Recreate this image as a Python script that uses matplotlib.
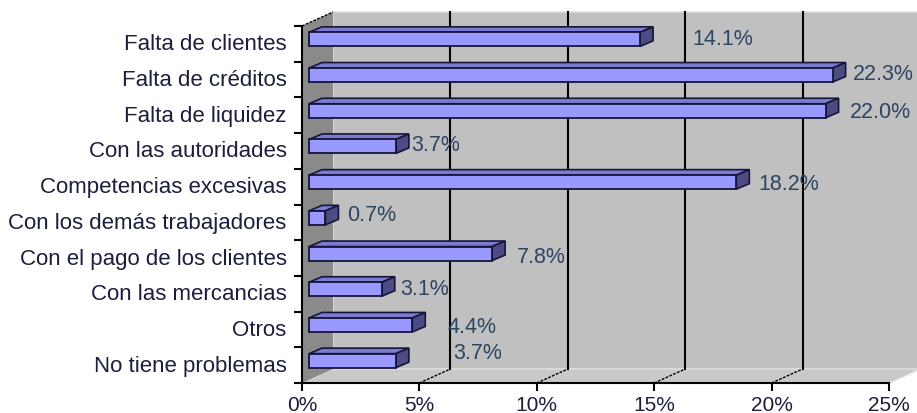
import matplotlib
matplotlib.use('Agg')
import matplotlib.pyplot as plt
from matplotlib.patches import Polygon

# ---------------- data ----------------
categories = ["Falta de clientes", "Falta de créditos", "Falta de liquidez",
              "Con las autoridades", "Competencias excesivas",
              "Con los demás trabajadores", "Con el pago de los clientes",
              "Con las mercancias", "Otros", "No tiene problemas"]
values = [14.1, 22.3, 22.0, 3.7, 18.2, 0.7, 7.8, 3.1, 4.4, 3.7]
value_labels = ["14.1%", "22.3%", "22.0%", "3.7%", "18.2%", "0.7%",
                "7.8%", "3.1%", "4.4%", "3.7%"]
xticks = [0, 5, 10, 15, 20, 25]
xtick_labels = ["0%", "5%", "10%", "15%", "20%", "25%"]

# ---------------- style ----------------
W, H, DPI = 917, 414, 100
FONT = "Liberation Sans"
CAT_COLOR = "#1c1f3c"
VAL_COLOR = "#2e4463"
# label offsets (pixels) relative to bar end / slot centre
label_offsets = [(52, 5), (20, 6), (24, 4), (15, 6), (22, 3),
                 (22, 8), (25, 2), (18, 5), (35, 3), (57, 13)]

fig = plt.figure(figsize=(W / DPI, H / DPI), dpi=DPI)
fig.patch.set_facecolor("white")
ax_l, ax_b, ax_w, ax_h = 302, 30, 587, 357
ax = fig.add_axes([ax_l / W, ax_b / H, ax_w / W, ax_h / H])
n = len(categories)
ax.set_xlim(0, 25)
ax.set_ylim(0, n)
ax.patch.set_visible(False)

sx = ax_w / 25.0
sy = ax_h / n
dX, dY = 31 / sx, 14 / sy          # wall depth
fx, fy = 7 / sx, 4.5 / sy          # bar front offset
bx, by = 13 / sx, 5.5 / sy         # bar depth
bh = 14 / sy                       # bar height

# walls
back = Polygon([(dX, dY), (25 + dX, dY), (25 + dX, n + dY), (dX, n + dY)],
               closed=True, fc="#c0c0c0", ec="#dedede", lw=1.2,
               zorder=0.5, clip_on=False)
floor = Polygon([(0, 0), (25, 0), (25 + dX, dY), (dX, dY)], closed=True,
                fc="#c9c9c9", ec="#dcdcdc", lw=1.0, zorder=0.6, clip_on=False)
left = Polygon([(0, 0), (dX, dY), (dX, n + dY), (0, n)], closed=True,
               fc="#8a8a8a", ec="none", zorder=0.7, clip_on=False)
for p in (back, floor, left):
    ax.add_patch(p)

for t in xticks[1:-1]:
    ax.plot([t + dX, t + dX], [dY, n + dY], color="black", lw=1.5,
            zorder=0.8, clip_on=False)
    ax.plot([t, t + dX], [0, dY], color="black", lw=1.0, ls=(0, (2, 1)),
            zorder=0.8, clip_on=False)
ax.plot([0, dX], [n, n + dY], color="black", lw=1.0, ls=(0, (2, 1)),
        zorder=0.8, clip_on=False)

# bars
edge = "#15153a"
for i, v in enumerate(values):
    yc = n - i - 0.5
    x0, x1 = fx, fx + v
    yb, yt = yc + fy - bh / 2, yc + fy + bh / 2
    top = Polygon([(x0, yt), (x1, yt), (x1 + bx, yt + by), (x0 + bx, yt + by)],
                  closed=True, fc="#7b7bcf", ec=edge, lw=1.2, zorder=3, clip_on=False)
    side = Polygon([(x1, yb), (x1 + bx, yb + by), (x1 + bx, yt + by), (x1, yt)],
                   closed=True, fc="#4c4c82", ec=edge, lw=1.2, zorder=3, clip_on=False)
    front = Polygon([(x0, yb), (x1, yb), (x1, yt), (x0, yt)],
                    closed=True, fc="#9999ff", ec=edge, lw=1.3, zorder=3.2, clip_on=False)
    for p in (top, side, front):
        ax.add_patch(p)
    ox, oy = label_offsets[i]
    ax.annotate(value_labels[i], xy=(x1, yc), xytext=(ox, oy),
                textcoords="offset pixels", ha="left", va="center",
                fontsize=15.5, family=FONT, color=VAL_COLOR, zorder=4)

# axes spines and ticks
for s in ("top", "right"):
    ax.spines[s].set_visible(False)
for s in ("left", "bottom"):
    ax.spines[s].set_linewidth(1.5)
    ax.spines[s].set_color("black")
    ax.spines[s].set_zorder(2.5)

ax.set_xticks(xticks)
ax.set_xticklabels(xtick_labels, fontsize=15, family=FONT, color=CAT_COLOR)
ax.set_yticks(range(n + 1))
ax.set_yticklabels([])
ax.set_yticks([n - i - 0.5 for i in range(n)], minor=True)
ax.set_yticklabels(categories, minor=True, fontsize=16, family=FONT,
                   color=CAT_COLOR)
ax.tick_params(axis="x", which="major", direction="out", length=6, width=1.5,
               pad=3)
ax.tick_params(axis="y", which="major", direction="out", length=6, width=1.5)
ax.tick_params(axis="y", which="minor", length=0, pad=11)
for lab in ax.get_yticklabels(minor=True):
    lab.set_va("center")

fig.savefig("out.png", dpi=DPI, facecolor="white")
